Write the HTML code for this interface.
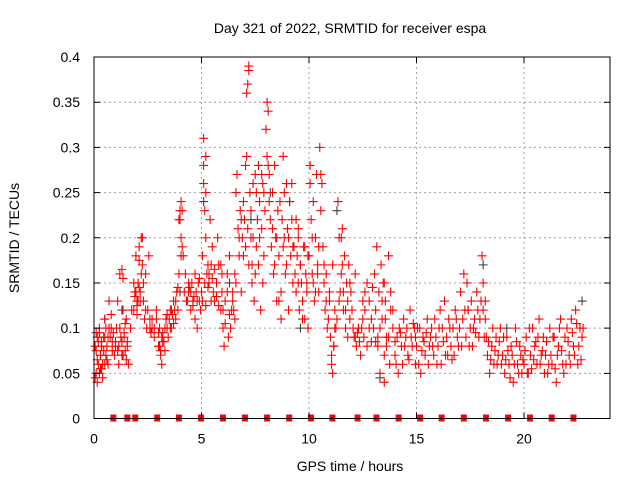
<!DOCTYPE html>
<html><head><meta charset="utf-8"><style>
body{margin:0;background:#fff}
svg{display:block;font-family:"Liberation Sans",sans-serif}
</style></head><body>
<svg id="chart" width="640" height="480" xmlns="http://www.w3.org/2000/svg">
<rect width="640" height="480" fill="#fff"/>
<g id="grid"></g>
<g id="marks"></g>
<g id="axes"></g>
<text x="350" y="33" text-anchor="middle" font-size="14">Day 321 of 2022, SRMTID for receiver espa</text>
<text x="350" y="471" text-anchor="middle" font-size="14">GPS time / hours</text>
<text transform="translate(19,238) rotate(-90)" text-anchor="middle" font-size="14">SRMTID / TECUs</text>
</svg>
<script>
const xTicks=[0,5,10,15,20];
const yTicks=[0,0.05,0.1,0.15,0.2,0.25,0.3,0.35,0.4];
const yTickLabels=["0","0.05","0.1","0.15","0.2","0.25","0.3","0.35","0.4"];
const markerHours=[0.9,1.55,1.92,2.94,3.95,4.98,6.0,7.02,8.05,9.08,10.09,11.09,12.26,13.14,14.17,15.17,16.17,17.2,18.23,19.26,20.28,21.29,22.3];
const redT=[0.05,0.1,0.15,0.2,0.25,0.3,0.35,0.4,0.45,0.5,0.55,0.6,0.65,0.7,0.75,0.8,0.85,0.9,0.1,0.3,0.5,0.7,
1.0,1.05,1.1,1.15,1.2,1.25,1.3,1.35,1.4,1.5,1.55,1.6,1.7,1.75,
1.85,1.9,1.95,2.0,2.05,2.1,2.15,2.2,2.25,2.3,2.35,2.4,2.45,2.5,2.55,
2.6,2.7,2.8,2.9,3.0,3.05,3.1,3.15,3.2,3.3,3.4,3.45,
3.5,3.55,3.6,3.7,3.8,3.85,3.9,3.95,4.0,4.05,4.1,4.15,4.2,4.25,
4.35,4.4,4.5,4.55,4.6,4.7,4.75,4.8,4.9,4.95,
5.0,5.05,5.1,5.1,5.15,5.2,5.2,5.25,5.3,5.35,5.4,5.45,5.5,5.55,
5.6,5.7,5.75,5.8,5.9,5.95,6.0,6.05,6.1,6.2,6.25,6.3,6.4,6.45,
6.5,6.55,6.6,6.65,6.7,6.75,6.8,6.85,6.9,6.95,7.0,7.05,7.1,7.1,7.15,7.2,7.2,7.25,
7.3,7.35,7.4,7.45,7.5,7.55,7.6,7.65,7.7,7.75,7.8,7.85,7.9,7.95,
8.0,8.05,8.1,8.1,8.15,8.2,8.25,8.3,8.35,8.4,8.45,8.5,8.55,
8.6,8.65,8.7,8.75,8.8,8.85,8.9,8.95,9.0,9.05,9.1,9.15,9.2,9.25,
9.3,9.35,9.4,9.45,9.5,9.55,9.6,9.65,9.7,9.75,9.8,9.85,9.9,9.95,
10.0,10.05,10.1,10.15,10.2,10.25,10.3,10.35,10.4,10.45,10.5,10.55,
10.6,10.65,10.7,10.75,10.8,10.9,10.95,11.0,11.05,11.1,11.15,11.2,11.25,
11.35,11.4,11.45,11.5,11.55,11.6,11.65,11.7,11.75,11.8,11.85,11.9,11.95,
12.0,12.1,12.15,12.2,12.3,12.4,12.5,12.55,12.6,12.7,12.8,12.9,
13.0,13.05,13.1,13.15,13.2,13.25,13.3,13.35,13.4,13.45,13.5,13.55,13.6,13.7,13.75,13.8,13.9,
14.0,14.1,14.15,14.2,14.3,14.35,14.4,14.5,14.55,14.6,14.7,14.8,14.9,14.95,
15.0,15.1,15.15,15.2,15.3,15.4,15.5,15.55,15.6,15.7,15.8,15.9,
16.0,16.1,16.15,16.2,16.3,16.35,16.4,16.5,16.6,16.7,16.75,16.8,16.9,
17.0,17.05,17.1,17.2,17.3,17.4,17.5,17.55,17.6,17.7,17.8,17.9,
18.0,18.05,18.1,18.15,18.2,18.3,18.4,18.5,18.6,18.7,18.8,18.9,
19.0,19.1,19.2,19.3,19.4,19.5,19.6,19.7,19.8,19.9,
20.0,20.1,20.2,20.3,20.4,20.5,20.6,20.7,20.8,20.9,
21.0,21.1,21.2,21.3,21.4,21.5,21.6,21.7,21.8,21.9,22.0,22.1,22.2,22.3,22.4,22.5,22.6,22.7];
const redV=[.08,.05,.09,.06,.1,.07,.085,.045,.09,.11,.07,.08,.06,.1,.09,.115,.075,.095,.095,.055,.06,.13,
.08,.1,.13,.06,.16,.09,.07,.12,.09,.11,.08,.06,.1,.12,
.12,.14,.18,.13,.15,.19,.14,.2,.17,.13,.11,.16,.1,.12,.18,
.1,.11,.09,.12,.08,.1,.07,.09,.085,.075,.1,.09,
.11,.12,.1,.13,.11,.14,.12,.16,.22,.2,.23,.18,.14,.16,
.13,.14,.12,.15,.13,.16,.14,.13,.155,.12,
.14,.18,.31,.28,.23,.25,.2,.16,.17,.15,.22,.13,.19,.14,
.13,.15,.2,.17,.12,.14,.1,.08,.13,.16,.09,.18,.12,.14,
.12,.16,.25,.27,.21,.18,.23,.14,.2,.24,.22,.28,.29,.36,.37,.39,.385,.25,
.2,.15,.26,.13,.27,.19,.22,.17,.24,.12,.21,.26,.18,.23,
.32,.35,.34,.28,.27,.22,.19,.25,.16,.28,.2,.13,.23,
.18,.24,.14,.22,.29,.2,.16,.26,.21,.12,.24,.18,.22,.15,
.19,.16,.14,.18,.2,.12,.17,.15,.13,.19,.11,.16,.14,.18,
.18,.28,.22,.16,.24,.13,.2,.27,.17,.14,.3,.23,
.26,.19,.15,.12,.16,.11,.13,.09,.06,.17,.08,.12,.1,
.24,.2,.14,.16,.21,.12,.18,.1,.15,.13,.17,.11,.14,
.12,.09,.16,.08,.1,.07,.11,.09,.12,.08,.1,.085,
.1,.16,.12,.19,.08,.14,.05,.17,.11,.15,.04,.13,.09,.18,.06,.12,.1,
.07,.09,.05,.1,.08,.06,.11,.09,.1,.07,.12,.08,.1,.09,
.08,.06,.1,.05,.09,.07,.11,.06,.08,.1,.07,.09,
.08,.12,.06,.1,.13,.07,.09,.11,.08,.1,.07,.12,.09,
.1,.14,.08,.16,.09,.12,.1,.13,.08,.11,.14,.09,
.13,.18,.15,.09,.11,.07,.05,.08,.06,.09,.07,.1,
.07,.05,.09,.06,.08,.04,.1,.06,.08,.05,
.06,.09,.05,.07,.1,.08,.06,.11,.07,.09,
.07,.05,.1,.06,.09,.04,.08,.11,.06,.09,.1,.07,.11,.08,.12,.06,.1,.09];
const red2T=[0.1,0.15,0.2,0.25,0.3,0.35,0.4,0.45,0.5,0.05,0.15,0.25,0.35,0.55,0.6,0.65,0.8,0.85,0.95,
1.0,1.1,1.15,1.2,1.3,1.35,1.4,1.45,1.5,1.55,1.3,1.35,1.45,
1.85,1.9,1.95,2.0,2.05,2.1,2.15,2.2,2.25,2.3,2.4,2.0,2.1,
2.6,2.65,2.7,2.8,2.9,3.0,3.05,3.1,3.2,3.25,3.3,3.35,3.4,3.15,
3.55,3.6,3.65,3.7,3.75,3.8,3.9,3.95,4.0,4.05,4.05,4.1,
4.3,4.4,4.45,4.5,4.6,4.65,4.7,4.8,4.85,4.9,
5.05,5.15,5.2,5.3,5.35,5.45,5.5,5.6,5.7,5.8,5.9,5.95,5.1,5.2,
6.0,6.1,6.2,6.3,6.35,6.45,6.55,6.6,6.75,6.85,6.95,7.05,7.15,7.2,
7.3,7.4,7.5,7.55,7.65,7.7,7.8,7.85,7.9,7.35,
8.05,8.15,8.3,8.4,8.5,8.6,8.7,8.8,8.85,8.95,9.05,9.2,9.25,
9.4,9.5,9.6,9.7,9.8,9.9,9.95,9.5,
10.05,10.15,10.2,10.3,10.4,10.45,10.55,10.7,10.8,10.85,10.95,
11.05,11.1,11.15,11.2,11.3,11.4,11.5,11.6,11.7,11.8,11.9,11.55,
12.05,12.15,12.25,12.35,12.45,12.5,12.6,12.7,12.8,12.9,12.95,
13.1,13.2,13.3,13.4,13.5,13.55,13.6,13.7,13.8,13.9,13.5,
14.0,14.05,14.25,14.45,14.65,14.75,14.85,14.95,
15.05,15.25,15.35,15.45,15.65,15.75,15.85,15.95,
16.05,16.25,16.45,16.55,16.65,16.85,16.95,
17.15,17.25,17.35,17.45,17.65,17.75,17.85,17.95,
18.1,18.2,18.25,18.35,18.45,18.55,18.65,18.75,18.85,18.95,
19.05,19.15,19.25,19.35,19.45,19.55,19.65,19.75,19.85,19.95,
20.05,20.15,20.25,20.35,20.45,20.55,20.65,20.75,20.85,20.95,
21.05,21.15,21.25,21.35,21.45,21.55,21.65,21.75,21.85,21.95,22.05,22.15,22.25,22.35,22.45,22.55,22.65,22.75];
const red2V=[.075,.065,.085,.095,.07,.08,.06,.075,.09,.045,.04,.05,.055,.1,.065,.09,.1,.085,.07,
.085,.075,.08,.1,.085,.07,.095,.075,.065,.085,.165,.155,.105,
.15,.135,.14,.125,.13,.145,.13,.16,.2,.15,.12,.115,.175,
.11,.095,.1,.1,.11,.095,.08,.075,.095,.085,.1,.11,.115,.06,
.1,.12,.115,.105,.12,.13,.145,.22,.23,.24,.18,.19,
.13,.15,.145,.14,.125,.135,.11,.1,.15,.13,
.13,.15,.125,.145,.16,.17,.155,.165,.135,.125,.17,.16,.26,.29,
.12,.105,.14,.115,.1,.13,.11,.15,.2,.22,.18,.19,.21,.17,
.23,.2,.16,.25,.28,.2,.27,.15,.25,.17,
.29,.24,.21,.17,.2,.13,.11,.19,.25,.17,.2,.26,.19,
.22,.15,.17,.11,.19,.15,.1,.21,
.26,.2,.15,.14,.16,.19,.27,.17,.13,.1,.14,
.07,.05,.08,.1,.11,.13,.2,.14,.12,.09,.15,.17,
.1,.09,.095,.085,.1,.13,.14,.15,.13,.11,.145,
.085,.09,.1,.13,.15,.11,.08,.09,.14,.12,.07,
.085,.06,.095,.08,.065,.09,.105,.06,
.1,.075,.085,.095,.09,.08,.11,.06,
.1,.085,.07,.1,.065,.11,.08,
.11,.12,.15,.08,.1,.095,.12,.11,
.12,.13,.09,.085,.065,.1,.075,.06,.085,.06,
.09,.065,.075,.045,.07,.06,.085,.05,.07,.065,
.075,.05,.1,.055,.065,.085,.09,.06,.075,.05,
.085,.06,.07,.09,.055,.07,.1,.075,.05,.06,.085,.06,.095,.07,.105,.08,.065,.1];
const greyT=[0.5,1.3,4.0,5.1,7.3,8.2,9.1,11.3,13.3,17.4,18.1,19.2,22.7,6.3,9.6];
const greyV=[.11,.12,.14,.24,.22,.25,.24,.23,.045,.12,.17,.1,.13,.15,.1];

const X0=94,X1=610,Y0=418.5,Y1=57;
const xS=h=>X0+h*(X1-X0)/24;
const yS=v=>Y0-v*(Y0-Y1)/0.4;
const NS="http://www.w3.org/2000/svg";
function mk(tag,attrs,parent){const e=document.createElementNS(NS,tag);for(const k in attrs)e.setAttribute(k,attrs[k]);parent.appendChild(e);return e;}
const grid=document.getElementById('grid'),axes=document.getElementById('axes'),marks=document.getElementById('marks');
yTicks.forEach((t,i)=>{const y=yS(t);
 if(t>0&&t<0.4){const g=mk('line',{x1:X0,x2:X1,y1:y,y2:y,stroke:'#a0a0a0','stroke-dasharray':'2,3'},grid);
 
 }
 const tk=mk('path',{d:`M${X0},${y}h6M${X1},${y}h-6`,stroke:'#000'},axes);
 
 
 const lb=mk('text',{x:X0-14,y:y+5,'text-anchor':'end','font-size':'14'},axes);lb.textContent=yTickLabels[i];
 
 
});
xTicks.forEach(t=>{const x=xS(t);
 if(t>0){const g=mk('line',{x1:x,x2:x,y1:Y1,y2:Y0,stroke:'#a0a0a0','stroke-dasharray':'2,3'},grid);
 
 }
 const tk=mk('path',{d:`M${x},${Y0}v-6M${x},${Y1}v6`,stroke:'#000'},axes);
 
 
 const lb=mk('text',{x:x,y:Y0+25,'text-anchor':'middle','font-size':'14'},axes);lb.textContent=String(t);
 
 
});
const fr=mk('rect',{x:X0,y:Y1,width:X1-X0,height:Y0-Y1,fill:'none',stroke:'#000'},axes);


function plus(t,v,col,name){const x=xS(t),y=yS(v);
 const p=mk('path',{d:`M${x-4.5},${y}h9M${x},${y-4.5}v9`,stroke:col,'stroke-width':'1.1'},marks);
 
 }
greyT.forEach((t,i)=>plus(t,greyV[i],'#404040','grey-point'));
redT.forEach((t,i)=>plus(t,redV[i],'#ff0000','red-point'));
red2T.forEach((t,i)=>plus(t,red2V[i],'#ff0000','red-point'));
markerHours.forEach(h=>{const r=mk('rect',{x:xS(h)-3,y:Y0-4,width:6,height:7,fill:'#ff0000'},marks);
 
 });
</script>
</body></html>
